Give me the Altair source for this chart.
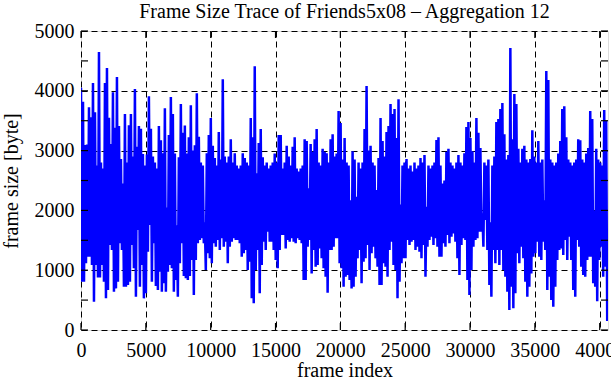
import altair as alt
import pandas as pd

# Upper and lower envelope of the trace, read per ~2 px column (frame size in byte)
peaks = [
    4051, 3817, 3093, 3100, 3723, 3557, 4130, 3640, 2750, 4648,
    2800, 2700, 4130, 4380, 3550, 3110, 3975, 3380, 4230, 3410,
    2860, 2450, 3610, 2800, 3425, 3610, 2900, 4030, 3065, 3410,
    3365, 2945, 2750, 2935, 3910, 3365, 2900, 2800, 2700, 3410,
    3175, 2955, 3710, 2050, 3260, 3895, 3610, 2950, 1750, 2890,
    3780, 3300, 3420, 2950, 3225, 3760, 3000, 3090, 3960, 3230,
    2800, 2750, 1800, 2955, 3260, 3545, 3080, 2875, 2750, 3310,
    2850, 4195, 2900, 2800, 2900, 3190, 2800, 2955, 2750, 2700,
    2750, 2955, 2875, 2800, 2750, 3545, 3225, 4410, 2620, 3125,
    3360, 2890, 2750, 2800, 2700, 2750, 2800, 2950, 2800, 3260,
    3260, 2700, 2800, 3080, 2900, 2750, 3065, 3225, 2700, 2650,
    2700, 2750, 3190, 3160, 2370, 3110, 2980, 3190, 3360, 2800,
    2750, 3030, 2980, 2955, 2800, 3190, 3275, 2900, 2950, 3660,
    3460, 2850, 3210, 2800, 2750, 2170, 2990, 2850, 2230, 2800,
    2700, 2800, 3360, 4080, 3000, 3080, 2800, 2750, 2340, 2875,
    3545, 3160, 2900, 3310, 3410, 3780, 3610, 3695, 3210, 3860,
    2100, 2750, 2800, 2860, 2700, 2750, 2650, 2800, 2700, 2750,
    2875, 2800, 2925, 2060, 2750, 2700, 2750, 2800, 3175, 3225,
    2750, 2450, 2500, 2980, 3030, 2800, 2750, 2700, 2800, 2925,
    2800, 2750, 2955, 3395, 3480, 3210, 2990, 2800, 3545, 3300,
    3045, 1950, 2800, 2750, 2850, 1800, 2750, 2900, 3480, 3530,
    3695, 3795, 3275, 2850, 2925, 4715, 3190, 3945, 3780, 3030,
    2800, 3030, 3080, 2850, 2800, 2860, 3340, 2900, 2800, 3160,
    2800, 2850, 2170, 4330, 4180, 2850, 2800, 2750, 2800, 2950,
    3160, 3695, 3740, 3225, 2850, 2800, 2750, 2800, 2850, 3190,
    3175, 2850, 2800, 2950, 3045, 3660, 3530, 2000, 3030, 2850,
    2800, 2750, 3680, 3500,
]
troughs = [
    808, 808, 1115, 1226, 1226, 1087, 474, 1087, 880, 880,
    1087, 808, 529, 669, 1421, 1338, 641, 696, 808, 1449,
    1338, 724, 724, 752, 808, 1421, 1031, 557, 1672, 724,
    1087, 529, 613, 1310, 1756, 808, 1449, 735, 669, 975,
    641, 780, 641, 975, 1087, 1031, 641, 836, 557, 1115,
    1449, 903, 864, 836, 903, 1170, 585, 1170, 1449, 1505,
    1533, 1449, 1003, 1282, 1198, 1115, 1449, 1393, 1505, 1338,
    1533, 1393, 1477, 1115, 1393, 1477, 1533, 1505, 1505, 1449,
    1226, 1282, 1338, 1003, 1143, 529, 446, 1003, 1338, 613,
    1087, 1477, 1338, 1644, 1477, 1477, 1338, 1170, 1031, 1338,
    1588, 1588, 1365, 1505, 1477, 1533, 1477, 1449, 1533, 1505,
    1449, 836, 836, 1393, 1505, 947, 1338, 1059, 1087, 1365,
    1198, 1031, 892, 624, 1338, 1338, 1393, 1533, 1533, 1115,
    1031, 724, 892, 920, 836, 696, 724, 892, 1198, 1338,
    780, 1143, 1198, 1421, 1003, 1282, 1393, 1198, 1059, 752,
    752, 1115, 1059, 892, 1338, 1477, 1087, 1003, 529, 808,
    1115, 1198, 1198, 1505, 1421, 1477, 1505, 1338, 1393, 1310,
    1198, 1421, 892, 1393, 1505, 1561, 1421, 1533, 1393, 1226,
    1226, 1449, 1393, 1588, 1449, 1561, 1616, 1477, 1198, 920,
    1421, 1533, 1505, 836, 585, 1003, 1393, 1505, 1533, 1644,
    1644, 1393, 1839, 1338, 752, 557, 1338, 1115, 1338, 1087,
    1338, 1003, 892, 641, 334, 724, 362, 613, 1282, 1115,
    1393, 1198, 808, 557, 724, 947, 1226, 1282, 1477, 1226,
    1170, 1477, 1338, 669, 892, 502, 390, 724, 1170, 1338,
    1365, 1254, 1505, 1170, 1561, 1170, 669, 557, 1505, 1393,
    1059, 920, 892, 1170, 1226, 1226, 780, 724, 480, 1170,
    1393, 892, 1059, 150,
]
frame_step = 77  # frames between successive samples
x_ticks = [0, 5000, 10000, 15000, 20000, 25000, 30000, 35000, 40000]
y_ticks = [0, 500, 1000, 1500, 2000, 2500, 3000, 3500, 4000, 4500, 5000]

sizes = []
for p, t in zip(peaks, troughs):
    sizes.extend([p, t])
frames = [i * frame_step for i in range(len(sizes))]
df = pd.DataFrame({"frame": frames, "size": sizes})

FONT = "Liberation Serif"
FS = 20
W, H = 527, 299
xscale = alt.Scale(domain=[0, 40640], nice=False, zero=False)
yscale = alt.Scale(domain=[0, 5000], nice=False)

common_axis = dict(
    grid=True, gridDash=[6, 4], gridColor="black", gridOpacity=1, gridWidth=1,
    tickSize=0, domain=False, labelFont=FONT, labelFontSize=FS, labelColor="black",
    titleFont=FONT, titleFontSize=FS, titleFontWeight="normal", titleColor="black",
    labelOverlap=False, format="d", titleBaseline="alphabetic",
)

line = alt.Chart(df).mark_line(
    color="#0000ff", strokeWidth=2.5, strokeJoin="bevel", clip=True
).encode(
    x=alt.X("frame:Q", scale=xscale,
            axis=alt.Axis(values=x_ticks, title="frame index", labelPadding=10,
                          labelFlush=False, titleY=46, **common_axis)),
    y=alt.Y("size:Q", scale=yscale,
            axis=alt.Axis(values=y_ticks, title="frame size [byte]", labelPadding=7,
                          titleX=-64, titleAngle=-90, **common_axis)),
)

xt = pd.DataFrame({"frame": x_ticks})
yt = pd.DataFrame({"size": y_ticks})

bottom_ticks = alt.Chart(xt).mark_rule(color="black", strokeWidth=1.2).encode(
    x=alt.X("frame:Q", scale=xscale), y=alt.value(H), y2=alt.value(H - 7))
top_ticks = alt.Chart(xt).mark_rule(color="black", strokeWidth=1.2).encode(
    x=alt.X("frame:Q", scale=xscale), y=alt.value(0), y2=alt.value(7))
left_ticks = alt.Chart(yt).mark_rule(color="black", strokeWidth=1.2).encode(
    y=alt.Y("size:Q", scale=yscale), x=alt.value(0), x2=alt.value(7))
right_ticks = alt.Chart(yt).mark_rule(color="black", strokeWidth=1.2).encode(
    y=alt.Y("size:Q", scale=yscale), x=alt.value(W), x2=alt.value(W - 7))

chart = alt.layer(line, bottom_ticks, top_ticks, left_ticks, right_ticks).properties(
    width=W, height=H,
    title=alt.TitleParams("Frame Size Trace of Friends5x08 – Aggregation 12",
                          font=FONT, fontSize=FS, fontWeight="normal", color="black",
                          anchor="middle", baseline="alphabetic", offset=0, dy=17),
    autosize=alt.AutoSizeParams(type="none"),
    padding={"left": 81, "top": 31, "right": 3, "bottom": 50},
).configure_view(stroke="black", strokeWidth=1.6).configure(background="white")

chart.save("out.html", embed_options={"renderer": "svg", "actions": False})
